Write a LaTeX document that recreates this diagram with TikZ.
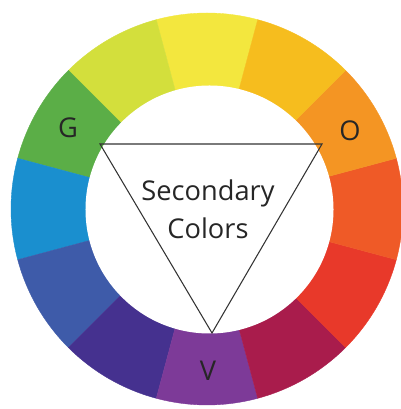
\documentclass[tikz,border=0pt]{standalone}
\usepackage{fontspec}
\setmainfont{Open Sans}
\usetikzlibrary{positioning}

% wheel colours
\definecolor{cwYellow}{HTML}{F3E73E}
\definecolor{cwYellowGreen}{HTML}{D3DF3C}
\definecolor{cwGreen}{HTML}{5BAE47}
\definecolor{cwBlue}{HTML}{1A8FCF}
\definecolor{cwBlueViolet}{HTML}{3E5BA9}
\definecolor{cwIndigo}{HTML}{45318F}
\definecolor{cwViolet}{HTML}{7D3A98}
\definecolor{cwRedViolet}{HTML}{A91C4C}
\definecolor{cwRed}{HTML}{E8392A}
\definecolor{cwRedOrange}{HTML}{EF5A27}
\definecolor{cwOrange}{HTML}{F49523}
\definecolor{cwYellowOrange}{HTML}{F6BD1E}

\begin{document}
\begin{tikzpicture}[
    every node/.style={font=\fontsize{15.5}{21.5}\selectfont, text=black!85},
    hue/.style={line width=0.2pt},
    tri/.style={draw=black!80, line width=0.6pt, line join=miter},
    letter/.style={inner sep=0pt}
]
\useasboundingbox (-4.14, -4.0) rectangle (3.86, 4.18);

% ============ COLOUR WHEEL ============
\foreach \ang/\col in {90/cwYellow, 120/cwYellowGreen, 150/cwGreen,
    180/cwBlue, 210/cwBlueViolet, 240/cwIndigo, 270/cwViolet,
    300/cwRedViolet, 330/cwRed, 0/cwRedOrange, 30/cwOrange, 60/cwYellowOrange}
    \fill[hue, \col, draw=\col] (0, 0) -- (\ang-15:3.92)
        arc[start angle=\ang-15, end angle=\ang+15, radius=3.92] -- cycle;

% inner hole
\fill[white] (0.05, -0.01) circle[radius=2.48];

% ============ TRIANGLE ============
\coordinate (green) at (-2.14, 1.30);
\coordinate (orange) at (2.30, 1.30);
\coordinate (violet) at (0.10, -2.48);
\draw[tri] (green) -- (orange) -- (violet) -- cycle;

\node[align=center] (title) at (0.02, 0.0) {Secondary\\Colors};

% ============ LABELS ============
\node[letter] (G) at (-2.78, 1.63) {G};
\node[letter] (O) at (2.86, 1.56) {O};
\node[letter] (V) at (0.02, -3.24) {V};

\end{tikzpicture}
\end{document}
